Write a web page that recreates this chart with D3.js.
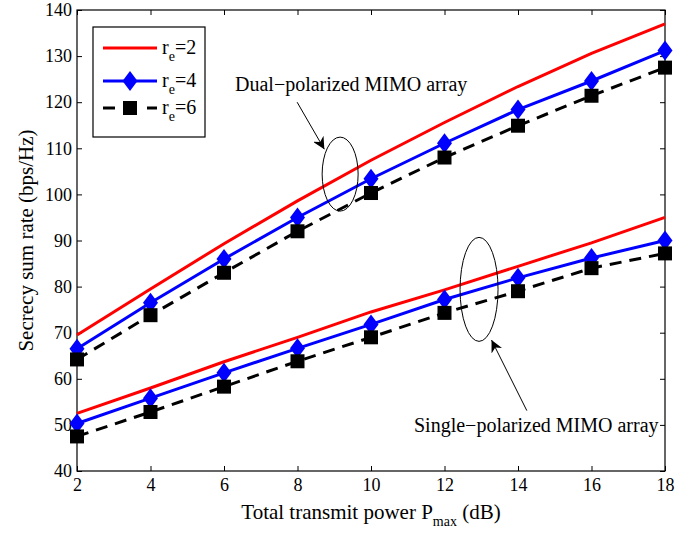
<!DOCTYPE html>
<html>
<head>
<meta charset="utf-8">
<script src="https://cdn.jsdelivr.net/npm/d3@7"></script>
<style>
  body { margin: 0; background: #fff; }
  svg { font-family: "Liberation Serif", "Times New Roman", serif; }
  .axis text { font-family: "Liberation Serif", "Times New Roman", serif; font-size: 18px; fill: #000; }
  .axis path, .axis line { stroke: #000; }
</style>
</head>
<body>
<div id="chart"></div>
<script>
// power axis (dB)
var power = [2, 4, 6, 8, 10, 12, 14, 16, 18];
var yTicks = [40, 50, 60, 70, 80, 90, 100, 110, 120, 130, 140];

// dual-polarized MIMO array
var dualRe2 = [69.5, 79.5, 89.3, 98.6, 107.4, 115.6, 123.4, 130.6, 137.0];
var dualRe4 = [66.5, 76.5, 86.0, 95.0, 103.4, 111.1, 118.4, 124.6, 131.2];
var dualRe6 = [64.2, 73.8, 83.0, 92.0, 100.3, 108.0, 114.9, 121.4, 127.5];

// single-polarized MIMO array
var singleRe2 = [52.5, 58.0, 63.7, 69.0, 74.5, 79.3, 84.4, 89.5, 95.0];
var singleRe4 = [50.3, 55.8, 61.3, 66.6, 71.8, 77.2, 81.9, 86.2, 90.0];
var singleRe6 = [47.5, 52.8, 58.3, 63.8, 69.0, 74.3, 79.0, 84.0, 87.2];

var legendLabels = ["2", "4", "6"];

var width = 695, height = 536;
var plotLeft = 77, plotRight = 665, plotTop = 10, plotBottom = 471;

var svg = d3.select("#chart").append("svg")
    .attr("width", width)
    .attr("height", height);

var x = d3.scaleLinear().domain([2, 18]).range([plotLeft, plotRight]);
var y = d3.scaleLinear().domain([40, 140]).range([plotBottom, plotTop]);

// axes, MATLAB style ticks pointing inward on all sides
svg.append("g").attr("class", "axis")
    .attr("transform", "translate(0," + plotBottom + ")")
    .call(d3.axisBottom(x).tickValues(power).tickSizeInner(-5).tickSizeOuter(0).tickPadding(7))
    .call(function (g) { g.select(".domain").remove(); });
svg.append("g").attr("class", "axis")
    .attr("transform", "translate(0," + plotTop + ")")
    .call(d3.axisTop(x).tickValues(power).tickSizeInner(-5).tickSizeOuter(0).tickFormat(""))
    .call(function (g) { g.select(".domain").remove(); });
svg.append("g").attr("class", "axis")
    .attr("transform", "translate(" + plotLeft + ",0)")
    .call(d3.axisLeft(y).tickValues(yTicks).tickSizeInner(-5).tickSizeOuter(0).tickPadding(5))
    .call(function (g) { g.select(".domain").remove(); });
svg.append("g").attr("class", "axis")
    .attr("transform", "translate(" + plotRight + ",0)")
    .call(d3.axisRight(y).tickValues(yTicks).tickSizeInner(-5).tickSizeOuter(0).tickFormat(""))
    .call(function (g) { g.select(".domain").remove(); });

svg.append("rect")
    .attr("x", plotLeft).attr("y", plotTop)
    .attr("width", plotRight - plotLeft).attr("height", plotBottom - plotTop)
    .attr("fill", "none").attr("stroke", "#000").attr("stroke-width", 1.2);

var line = d3.line()
    .x(function (d, i) { return x(power[i]); })
    .y(function (d) { return y(d); });

var diamond = function (s) {
    return "M0," + (-s) + "L" + (s * 0.75) + ",0L0," + s + "L" + (-s * 0.75) + ",0Z";
};

function drawSeries(vals, style) {
    svg.append("path")
        .datum(vals)
        .attr("fill", "none")
        .attr("stroke", style.color)
        .attr("stroke-width", 3)
        .attr("stroke-dasharray", style.dash || null)
        .attr("d", line);
    if (style.marker === "diamond") {
        svg.selectAll(null).data(vals).enter().append("path")
            .attr("d", diamond(10))
            .attr("fill", style.color)
            .attr("transform", function (d, i) { return "translate(" + x(power[i]) + "," + y(d) + ")"; });
    } else if (style.marker === "square") {
        svg.selectAll(null).data(vals).enter().append("rect")
            .attr("x", function (d, i) { return x(power[i]) - 7; })
            .attr("y", function (d) { return y(d) - 7; })
            .attr("width", 14).attr("height", 14)
            .attr("fill", style.color);
    }
}

var styles = [
    { color: "#ff0000" },
    { color: "#0000ff", marker: "diamond" },
    { color: "#000000", marker: "square", dash: "12,8" }
];

drawSeries(singleRe2, styles[0]);
drawSeries(singleRe4, styles[1]);
drawSeries(singleRe6, styles[2]);
drawSeries(dualRe2, styles[0]);
drawSeries(dualRe4, styles[1]);
drawSeries(dualRe6, styles[2]);

// legend
var legend = svg.append("g");
legend.append("rect")
    .attr("x", 93).attr("y", 27).attr("width", 112).attr("height", 110)
    .attr("fill", "#fff").attr("stroke", "#000").attr("stroke-width", 1.2);
var legY = [48, 81, 108];
legendLabels.forEach(function (lab, i) {
    var st = styles[i];
    legend.append("line")
        .attr("x1", 103).attr("x2", 157)
        .attr("y1", legY[i]).attr("y2", legY[i])
        .attr("stroke", st.color).attr("stroke-width", 3)
        .attr("stroke-dasharray", st.dash ? "12,32" : null);
    if (st.marker === "diamond") {
        legend.append("path").attr("d", diamond(10)).attr("fill", st.color)
            .attr("transform", "translate(130," + legY[i] + ")");
    } else if (st.marker === "square") {
        legend.append("rect").attr("x", 123).attr("y", legY[i] - 7)
            .attr("width", 14).attr("height", 14).attr("fill", st.color);
    }
    var t = legend.append("text")
        .attr("x", 162).attr("y", legY[i] + 6)
        .attr("font-size", 20);
    t.append("tspan").text("r");
    t.append("tspan").attr("dy", 7).attr("font-size", 14).text("e");
    t.append("tspan").attr("dy", -7).text("=" + lab);
});

// annotations
svg.append("defs").append("marker")
    .attr("id", "arrow")
    .attr("viewBox", "0 0 10 10")
    .attr("refX", 10).attr("refY", 5)
    .attr("markerWidth", 12).attr("markerHeight", 12)
    .attr("markerUnits", "userSpaceOnUse")
    .attr("orient", "auto")
    .append("path").attr("d", "M0,0L10,5L0,10L3,5Z").attr("fill", "#000");

svg.append("ellipse")
    .attr("cx", x(9.16)).attr("cy", y(104.4))
    .attr("rx", 18).attr("ry", 37)
    .attr("fill", "none").attr("stroke", "#000").attr("stroke-width", 1);
svg.append("line")
    .attr("x1", x(7.99)).attr("y1", y(120))
    .attr("x2", x(8.73)).attr("y2", y(109.8))
    .attr("stroke", "#000").attr("stroke-width", 1)
    .attr("marker-end", "url(#arrow)");
svg.append("text")
    .attr("x", 235).attr("y", 91)
    .attr("font-size", 20)
    .text("Dual\u2212polarized MIMO array");

svg.append("ellipse")
    .attr("cx", x(12.94)).attr("cy", y(79.4))
    .attr("rx", 19).attr("ry", 52)
    .attr("fill", "none").attr("stroke", "#000").attr("stroke-width", 1);
svg.append("line")
    .attr("x1", x(14.24)).attr("y1", y(53.1))
    .attr("x2", x(13.28)).attr("y2", y(68.4))
    .attr("stroke", "#000").attr("stroke-width", 1)
    .attr("marker-end", "url(#arrow)");
svg.append("text")
    .attr("x", 414).attr("y", 432)
    .attr("font-size", 20)
    .text("Single\u2212polarized MIMO array");

// axis titles
var xt = svg.append("text")
    .attr("x", (plotLeft + plotRight) / 2).attr("y", 519)
    .attr("text-anchor", "middle")
    .attr("font-size", 21);
xt.append("tspan").text("Total transmit power P");
xt.append("tspan").attr("dy", 7).attr("font-size", 14).text("max");
xt.append("tspan").attr("dy", -7).text(" (dB)");

svg.append("text")
    .attr("transform", "translate(33," + ((plotTop + plotBottom) / 2) + ") rotate(-90)")
    .attr("text-anchor", "middle")
    .attr("font-size", 21)
    .text("Secrecy sum rate (bps/Hz)");
</script>
</body>
</html>
